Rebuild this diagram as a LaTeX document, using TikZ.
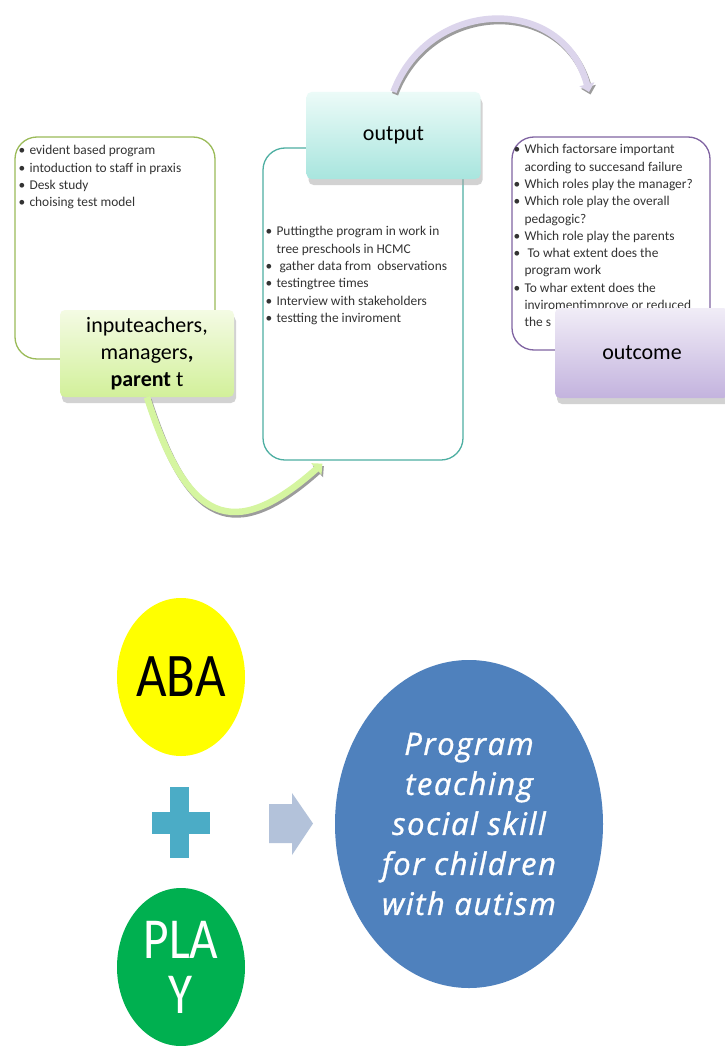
\documentclass[tikz,border=0pt]{standalone}
\usepackage{fontspec}
\setmainfont{Carlito}
\newfontfamily\roundfont[FakeStretch=0.85]{Carlito}
\newfontfamily\goalfont[LetterSpace=5,FakeBold=1]{Open Sans}
\usetikzlibrary{arrows.meta,positioning,calc,shapes.geometric,shadows}
\definecolor{inedge}{HTML}{9BBB59}
\definecolor{intop}{HTML}{F4FBE4}
\definecolor{inbot}{HTML}{D2F09A}
\definecolor{outedge}{HTML}{4EAFA2}
\definecolor{outtop}{HTML}{ECFBF8}
\definecolor{outbot}{HTML}{A8E5DE}
\definecolor{ocedge}{HTML}{8064A2}
\definecolor{octop}{HTML}{F1EDF7}
\definecolor{ocbot}{HTML}{C3B3DE}
\definecolor{greenloop}{HTML}{D5F5A0}
\definecolor{purploop}{HTML}{DCD5EC}
\definecolor{loopshade}{HTML}{9C9C9C}
\definecolor{abayellow}{HTML}{FFFF00}
\definecolor{playgreen}{HTML}{00B050}
\definecolor{goalblue}{HTML}{4F81BD}
\definecolor{plusteal}{HTML}{4BACC6}
\definecolor{stepgray}{HTML}{B3C2DA}
\newcommand{\bul}{\makebox[11pt][l]{\textbullet}}
\newcommand{\cont}{\hspace*{11pt}}

\begin{document}
\begin{tikzpicture}[x=1pt,y=-1pt,
  listbox/.style={draw, line width=1.3pt, rounded corners=22pt, fill=white,
                  minimum width=200pt, inner sep=0pt},
  listtext/.style={align=left, inner sep=0pt, text=black!80,
                   font=\fontsize{13.4}{17.3}\selectfont},
  headbox/.style={rounded corners=5pt, minimum width=174pt, minimum height=87pt,
                  align=center, font=\fontsize{22}{27}\selectfont,
                  drop shadow={shadow xshift=2pt, shadow yshift=-6pt, fill=black!35}},
  loopflow/.style={line width=6.5pt, -{Triangle[length=8pt,width=15pt]}},
  loopshadow/.style={loopflow, draw=loopshade, transform canvas={xshift=1.5pt,yshift=-2.5pt}},
  goal/.style={ellipse, inner sep=0pt, minimum width=128pt, minimum height=158pt}
]
\fill[white] (0,0) rectangle (724,1046);
\useasboundingbox (0,0) rectangle (724,1046);

\node[listbox, draw=inedge, minimum height=222pt] (inlist) at (115,248) {};
\node[listbox, draw=outedge, minimum height=312pt] (outlist) at (363,304) {};
\node[listbox, draw=ocedge, minimum width=198pt, minimum height=213pt] (oclist) at (611,243.5) {};

\node[listtext, below right=9pt and 4pt of inlist.north west] (initems)
  {\bul evident based program\\
   \bul intoduction to staff in praxis\\
   \bul Desk study\\
   \bul choising test model};
\node[listtext, below right=79pt and 3pt of outlist.north west] (outitems)
  {\bul Puttingthe program in work in\\
   \cont tree preschools in HCMC\\
   \bul \ gather data from\ \ observations\\
   \bul testingtree times\\
   \bul Interview with stakeholders\\
   \bul testting the inviroment};
\node[listtext, below right=8pt and 2pt of oclist.north west] (ocitems)
  {\bul Which factorsare important\\
   \cont acording to succesand failure\\
   \bul Which roles play the manager?\\
   \bul Which role play the overall\\
   \cont pedagogic?\\
   \bul Which role play the parents\\
   \bul \ To what extent does the\\
   \cont program work\\
   \bul To whar extent does the\\
   \cont inviromentimprove or reduced\\
   \cont the s};

\node[headbox, top color=intop, bottom color=inbot] (inhead) at (147,353.5)
  {inputeachers,\\ managers\textbf{,}\\ \textbf{parent} t};
\node[headbox, top color=outtop, bottom color=outbot] (outhead) at (393.5,135.5) {output};
\node[headbox, top color=octop, bottom color=ocbot, minimum height=90pt] (ochead) at (642,353) {outcome};

\coordinate (gtip) at ($(outlist.south west)+(60,3)$);
\coordinate (ptip) at (589,92);
\draw[loopshadow] (inhead.south) .. controls ($(inhead.south)+(40,125)$) and ($(gtip)+(-90,80)$) .. (gtip);
\draw[loopflow, draw=greenloop] (inhead.south) .. controls ($(inhead.south)+(40,125)$) and ($(gtip)+(-90,80)$) .. (gtip);
\draw[loopshadow] (outhead.north) .. controls ($(outhead.north)+(36,-95)$) and ($(ptip)+(-26,-98)$) .. (ptip);
\draw[loopflow, draw=purploop] (outhead.north) .. controls ($(outhead.north)+(36,-95)$) and ($(ptip)+(-26,-98)$) .. (ptip);

\node[goal, fill=abayellow, font=\roundfont\fontsize{62}{62}\selectfont] (aba) at (181,677) {ABA};
\node[goal, fill=playgreen, text=white, align=center,
      font=\roundfont\fontsize{58}{55}\selectfont] (play) at (181,967) {PLA\\Y};
\node[ellipse, inner sep=0pt, minimum width=268pt, minimum height=328pt, fill=goalblue,
      text=white, align=center, font=\goalfont\itshape\fontsize{31}{40}\selectfont] (goalprog) at (469,824)
  {Program\\ teaching\\ social skill\\ for children\\ with autism};

\fill[plusteal] (152,812) rectangle (210,834);
\fill[plusteal] (170,787) rectangle (189,858);
\fill[stepgray] (269,804) -- (292,804) -- (292,793) -- (313,823.5) -- (292,855) -- (292,843) -- (269,843) -- cycle;
\end{tikzpicture}
\end{document}
